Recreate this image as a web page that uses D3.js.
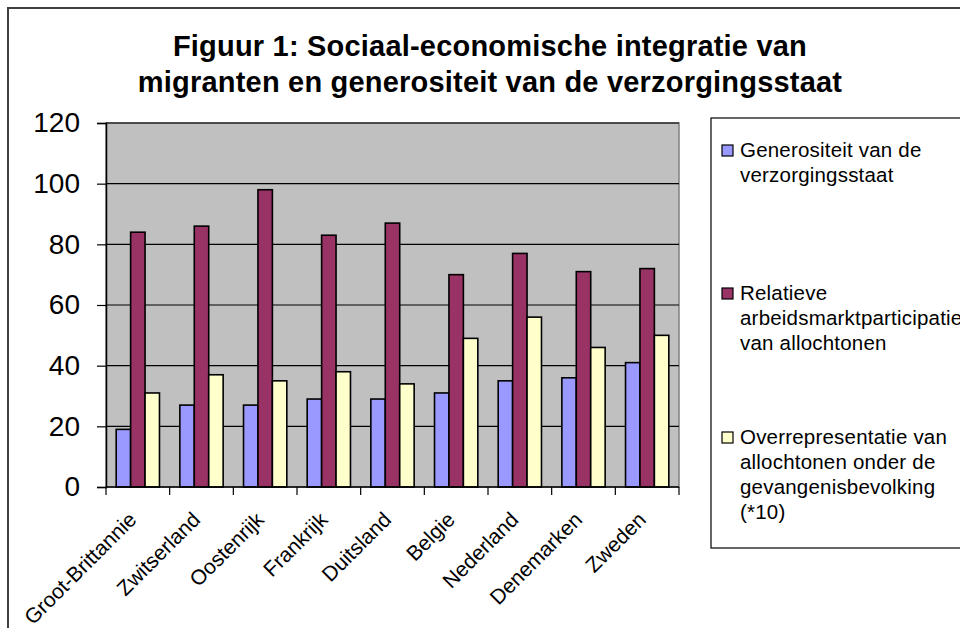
<!DOCTYPE html>
<html><head><meta charset="utf-8">
<script src="https://cdn.jsdelivr.net/npm/d3@7"></script>
<style>
html,body{margin:0;padding:0;background:#fff;overflow:hidden;}
svg{display:block;font-family:"Liberation Sans",Arial,Helvetica,sans-serif;}
</style></head>
<body>
<svg id="chart" width="960" height="628"></svg>
<script>
const titleLines = ["Figuur 1: Sociaal-economische integratie van", "migranten en generositeit van de verzorgingsstaat"];
const categories = ["Groot-Brittannie","Zwitserland","Oostenrijk","Frankrijk","Duitsland","Belgie","Nederland","Denemarken","Zweden"];
const generositeit = [19, 27, 27, 29, 29, 31, 35, 36, 41];
const arbeidsmarkt = [84, 86, 98, 83, 87, 70, 77, 71, 72];
const overrepresentatie = [31, 37, 35, 38, 34, 49, 56, 46, 50];
const seriesNames = [
  ["Generositeit van de", "verzorgingsstaat"],
  ["Relatieve", "arbeidsmarktparticipatie", "van allochtonen"],
  ["Overrepresentatie van", "allochtonen onder de", "gevangenisbevolking", "(*10)"]
];
const seriesColors = ["#9999FF", "#993366", "#FFFFCC"];
const yTicks = [0, 20, 40, 60, 80, 100, 120];

(function () {
const seriesValues = [generositeit, arbeidsmarkt, overrepresentatie];
const svg = d3.select("#chart");

// outer chart border (extends beyond the visible area)
svg.append("rect").attr("x", 8).attr("y", 8).attr("width", 1000).attr("height", 700)
  .attr("fill", "#fff").attr("stroke", "#404040").attr("stroke-width", 2);

// title
svg.append("g").selectAll("text").data(titleLines).join("text")
  .attr("x", 490).attr("y", (d, i) => 56 + i * 36)
  .attr("text-anchor", "middle").attr("font-size", 29).attr("font-weight", "bold")
  .attr("letter-spacing", 0.2).attr("fill", "#000").text(d => d);

const pL = 106, pR = 679, pT = 123, pB = 487;
const y = d3.scaleLinear().domain([0, 120]).range([pB, pT]);
const x0 = d3.scaleBand().domain(categories).range([pL, pR]).padding(0);
const bw = x0.bandwidth();
const x1 = d3.scaleBand().domain([0, 1, 2]).range([bw * 0.16, bw * 0.84]).padding(0);

// plot background
svg.append("rect").attr("x", pL).attr("y", pT).attr("width", pR - pL).attr("height", pB - pT)
  .attr("fill", "#C0C0C0").attr("stroke", "#808080").attr("stroke-width", 1.5);

// gridlines
svg.append("g").selectAll("line").data(yTicks.filter(t => t > 0)).join("line")
  .attr("x1", pL).attr("x2", pR).attr("y1", d => y(d)).attr("y2", d => y(d))
  .attr("stroke", "#000").attr("stroke-width", 1.2);

// bars
const groups = svg.append("g").selectAll("g").data(categories).join("g")
  .attr("transform", d => `translate(${x0(d)},0)`);
groups.selectAll("rect").data((d, i) => seriesValues.map((vals, s) => ({s, v: vals[i]}))).join("rect")
  .attr("x", d => x1(d.s)).attr("width", x1.bandwidth())
  .attr("y", d => y(d.v)).attr("height", d => y(0) - y(d.v))
  .attr("fill", d => seriesColors[d.s]).attr("stroke", "#000").attr("stroke-width", 1.6);

// y axis
const yAxis = svg.append("g").attr("transform", `translate(${pL},0)`)
  .call(d3.axisLeft(y).tickValues(yTicks).tickSize(9).tickPadding(17));
yAxis.select(".domain").attr("stroke", "#000").attr("stroke-width", 1.5);
yAxis.selectAll(".tick line").attr("stroke", "#000").attr("stroke-width", 1.2);
yAxis.selectAll("text").attr("font-size", 28).attr("fill", "#000")
  .attr("font-family", "'Liberation Sans',Arial,sans-serif");

// x axis line and ticks at category boundaries
svg.append("line").attr("x1", pL).attr("x2", pR).attr("y1", pB).attr("y2", pB)
  .attr("stroke", "#000").attr("stroke-width", 1.5);
const bounds = categories.map(c => x0(c)).concat([pR]);
svg.append("g").selectAll("line").data(bounds).join("line")
  .attr("x1", d => d).attr("x2", d => d).attr("y1", pB).attr("y2", pB + 8)
  .attr("stroke", "#000").attr("stroke-width", 1.2);

// x labels rotated
svg.append("g").selectAll("text").data(categories).join("text")
  .attr("transform", d => `translate(${x0(d) + bw / 2},${pB + 34}) rotate(-45)`)
  .attr("text-anchor", "end").attr("font-size", 21).attr("fill", "#000").text(d => d);

// legend
svg.append("rect").attr("x", 711).attr("y", 118).attr("width", 300).attr("height", 430)
  .attr("fill", "#fff").attr("stroke", "#000").attr("stroke-width", 1.2);
const legendTop = [157, 300, 444];
const leg = svg.append("g").selectAll("g").data(seriesNames).join("g")
  .attr("transform", (d, i) => `translate(722,${legendTop[i]})`);
leg.append("rect").attr("x", 0).attr("y", -12).attr("width", 11).attr("height", 11)
  .attr("fill", (d, i) => seriesColors[i]).attr("stroke", "#000").attr("stroke-width", 1.2);
leg.selectAll("text").data(d => d).join("text")
  .attr("x", 18).attr("y", (d, j) => j * 25)
  .attr("font-size", 20.5).attr("letter-spacing", 0.2).attr("fill", "#000").text(d => d);
})();
</script>
</body></html>
